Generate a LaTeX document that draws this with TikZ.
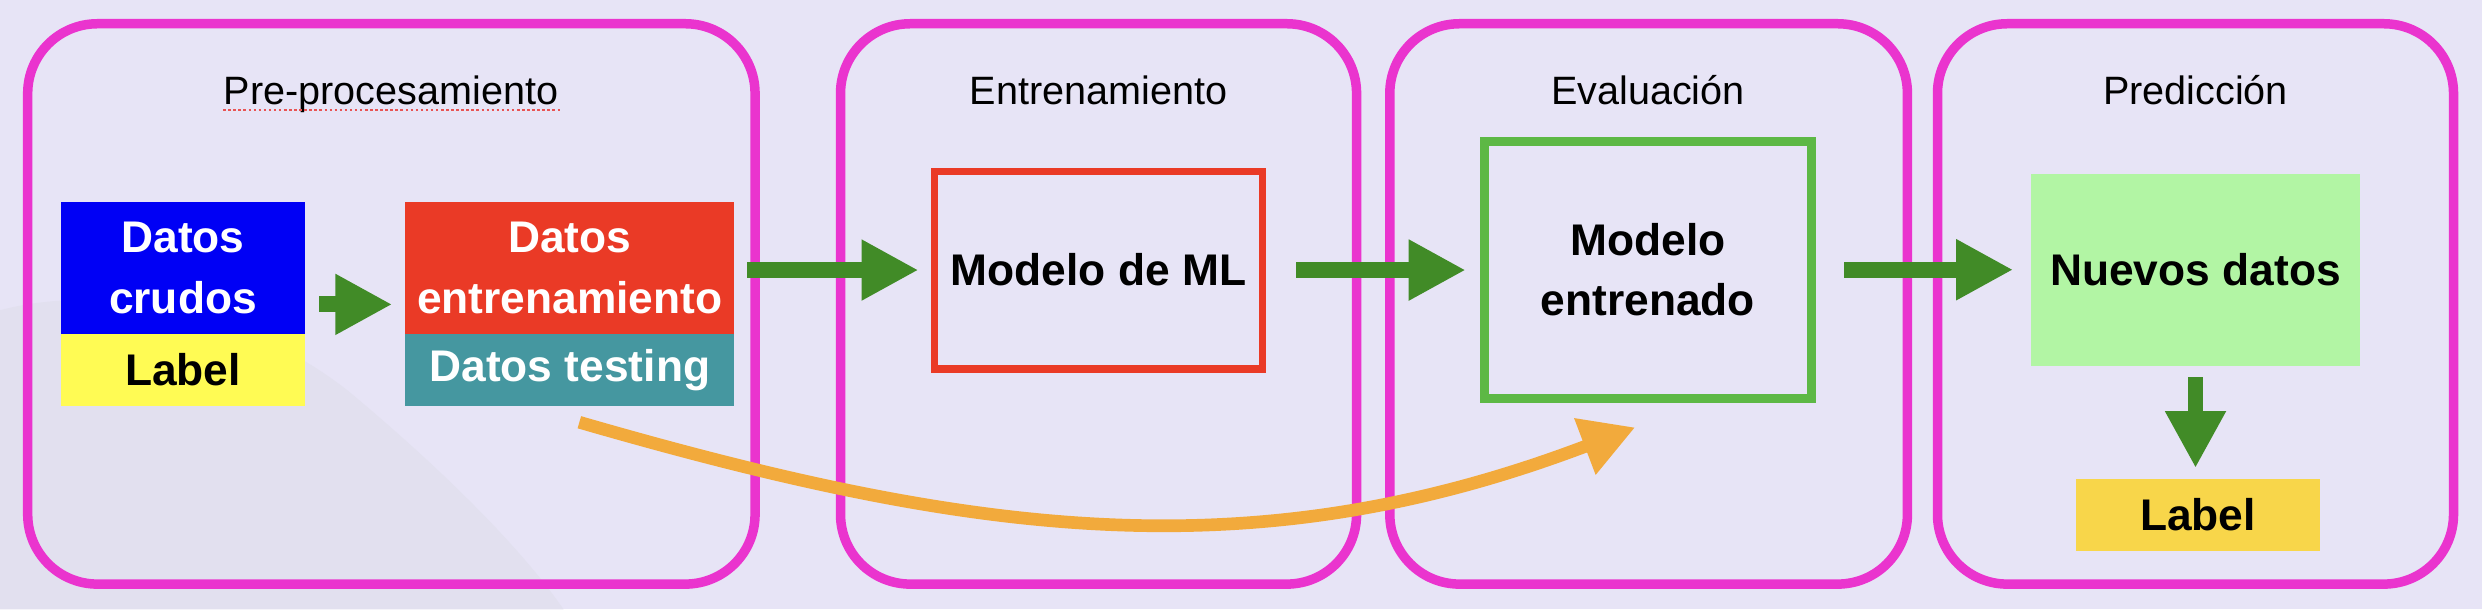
\documentclass[tikz,border=0pt]{standalone}
\usepackage{xcolor}
\usepackage{fontspec}
\setmainfont{Liberation Sans}
\usepackage{tikz}
\usetikzlibrary{arrows.meta,calc}

\definecolor{bgcol}{RGB}{231,228,246}
\definecolor{bgshade}{RGB}{226,224,239}
\definecolor{stagepink}{RGB}{234,52,206}
\definecolor{rawblue}{RGB}{0,0,245}
\definecolor{labelyellow}{RGB}{255,251,84}
\definecolor{trainred}{RGB}{234,58,38}
\definecolor{testteal}{RGB}{69,151,160}
\definecolor{flowgreen}{RGB}{65,139,39}
\definecolor{trainedgreen}{RGB}{93,184,69}
\definecolor{newgreen}{RGB}{178,245,164}
\definecolor{predgold}{RGB}{248,214,74}
\definecolor{testorange}{RGB}{242,170,60}
\definecolor{spellred}{RGB}{232,84,84}

\begin{document}
\begin{tikzpicture}[x=1pt,y=1pt,yscale=-1,xscale=1,
        stage/.style={draw=stagepink,line width=6pt,rounded corners=44pt},
        stagetitle/.style={anchor=base,inner sep=0pt,font=\fontsize{25}{30}\selectfont},
        block/.style={inner sep=0pt,align=center,font=\bfseries\fontsize{28}{38}\selectfont},
        flow/.style={draw=flowgreen,line width=10pt,-{Triangle[length=36pt,width=36pt]}},
        testflow/.style={draw=testorange,line width=8pt,-{Triangle[length=34pt,width=36pt]}},
        spellmark/.style={draw=spellred,line width=1.6pt,dash pattern=on 1.6pt off 1.6pt}]
        \fill[bgcol] (0,0) rectangle (1568,385);
        \useasboundingbox (0,0) rectangle (1568,385);
        \fill[bgshade] (0,196) .. controls (60,180) and (150,192) .. (220,247) .. controls (280,297) and (330,347) .. (356,385) -- (0,385) -- cycle;

        \draw[stage] (17.5,15) rectangle (477,369);
        \draw[stage] (531,15) rectangle (857,369);
        \draw[stage] (878,15) rectangle (1205,369);
        \draw[stage] (1224,15) rectangle (1550,369);

        \draw (247,66) node (pretitle) [stagetitle] {Pre-procesamiento};
        \draw[spellmark] (141,69.5) -- (355,69.5);
        \draw (694,66) node (traintitle) [stagetitle] {Entrenamiento};
        \draw (1041,66) node (evaltitle) [stagetitle] {Evaluación};
        \draw (1387,66) node (predtitle) [stagetitle] {Predicción};

        \draw (115.6,169.3) node (crudos) [block,fill=rawblue,text=white,minimum width=154pt,minimum height=83.5pt] {Datos\\crudos};
        \draw (115.6,233.8) node (rawlabel) [block,fill=labelyellow,minimum width=154pt,minimum height=45.5pt] {Label};
        \draw (360,169.3) node (train) [block,fill=trainred,text=white,minimum width=208pt,minimum height=83.5pt] {Datos\\entrenamiento};
        \draw (360,233.8) node (testing) [block,fill=testteal,text=white,minimum width=208pt,minimum height=45.5pt] {Datos testing};
        \draw (694,170.6) node (ml) [block,draw=trainred,line width=4.5pt,minimum width=207pt,minimum height=125pt] {Modelo de ML};
        \draw (1041,170.4) node (trained) [block,draw=trainedgreen,line width=5.5pt,minimum width=206.6pt,minimum height=162.4pt] {Modelo\\entrenado};
        \draw (1387,170.5) node (nuevos) [block,fill=newgreen,minimum width=208pt,minimum height=121pt] {Nuevos datos};
        \draw (1388.5,325.4) node (predlabel) [block,fill=predgold,minimum width=154pt,minimum height=45pt] {Label};

        \draw[flow] ($(crudos.east)+(9,23)$) -- ($(train.west)+(-8,23)$);
        \draw[flow,shorten <=8pt,shorten >=8pt] (train.east |- ml.west) -- (ml.west);
        \draw[flow,shorten <=19pt,shorten >=9pt] (ml.east) -- (trained.west |- ml.east);
        \draw[flow,shorten <=18pt,shorten >=11pt] (trained.east) -- (nuevos.west |- trained.east);
        \draw[flow,shorten <=7pt,shorten >=7pt] (nuevos.south) -- (nuevos.south |- predlabel.north);

        \coordinate (testtip) at (1033,270);
        \draw[testflow] ($(testing.south)+(6,10)$) .. controls +(249,72) and +(-242,92) .. (testtip);
\end{tikzpicture}
\end{document}
